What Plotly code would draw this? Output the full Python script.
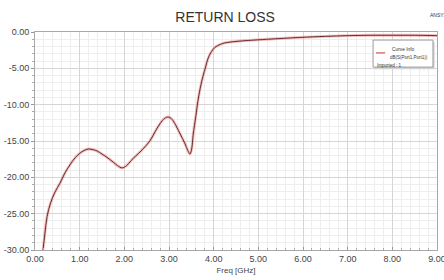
import plotly.graph_objects as go

# ---- data ----
freq_ghz = [0.18, 0.22, 0.27, 0.35, 0.45, 0.56, 0.67, 0.78, 0.9, 1.0, 1.1, 1.2, 1.3, 1.4,
            1.5, 1.6, 1.75, 1.85, 1.95, 2.05, 2.15, 2.25, 2.4, 2.57, 2.7, 2.8, 2.9, 2.98,
            3.05, 3.13, 3.24, 3.36, 3.42, 3.47, 3.51, 3.54, 3.6, 3.65, 3.7, 3.76, 3.82,
            3.87, 3.95, 4.03, 4.15, 4.25, 4.5, 4.81, 5.2, 5.93, 6.5, 7.0, 7.5, 8.0, 8.5, 9.0]
s11_db = [-30.0, -27.8, -25.4, -23.5, -22.0, -20.8, -19.4, -18.3, -17.3, -16.7, -16.3,
          -16.1, -16.2, -16.4, -16.8, -17.2, -17.9, -18.4, -18.7, -18.4, -17.7, -17.1,
          -16.2, -15.0, -13.6, -12.6, -11.9, -11.7, -11.9, -12.6, -13.9, -15.4, -16.3,
          -16.8, -16.0, -14.2, -11.6, -9.4, -7.7, -6.1, -4.8, -3.7, -2.7, -2.1, -1.7,
          -1.5, -1.3, -1.15, -1.0, -0.75, -0.6, -0.5, -0.45, -0.45, -0.45, -0.5]

x_tickvals = [0, 1, 2, 3, 4, 5, 6, 7, 8, 9]
x_ticktext = ["0.00", "1.00", "2.00", "3.00", "4.00", "5.00", "6.00", "7.00", "8.00", "9.00"]
y_tickvals = [0, -5, -10, -15, -20, -25, -30]
y_ticktext = ["0.00", "-5.00", "-10.00", "-15.00", "-20.00", "-25.00", "-30.00"]

title_text = "RETURN LOSS"
x_title = "Freq [GHz]"
legend_title = "Curve Info"
legend_entry = "dB(S(Port1,Port1))"
legend_note = "Imported : 1"
brand = "ANSYS"

FONT = "Liberation Sans, Arial, sans-serif"

fig = go.Figure()
fig.add_trace(go.Scatter(x=freq_ghz, y=s11_db, mode="lines", line_shape="spline",
                         line=dict(color="rgba(225,110,110,0.45)", width=2.8),
                         hoverinfo="skip", showlegend=False))
fig.add_trace(go.Scatter(x=freq_ghz, y=s11_db, mode="lines", line_shape="spline",
                         line=dict(color="#6a2e2e", width=1.0),
                         name=legend_entry, showlegend=False))

axis_common = dict(
    showline=True, linecolor="#a8a8a8", linewidth=1, mirror=True,
    gridcolor="#d6d6d6", gridwidth=1, zeroline=False, automargin=False,
    tickcolor="#999", ticklabeloverflow="allow",
    tickfont=dict(family=FONT, size=9, color="#444"),
)

fig.update_xaxes(range=[0, 9], tickvals=x_tickvals, ticktext=x_ticktext,
                 ticks="inside", ticklen=3,
                 minor=dict(dtick=0.2, showgrid=True, gridcolor="#eeeeee",
                            ticks="inside", ticklen=2, tickcolor="#aaa"),
                 title=dict(text=x_title, font=dict(family=FONT, size=8, color="#444"),
                            standoff=4),
                 **axis_common)
fig.update_yaxes(range=[-30, 0], tickvals=y_tickvals, ticktext=y_ticktext,
                 ticks="outside", ticklen=3,
                 minor=dict(dtick=1, showgrid=True, gridcolor="#eeeeee",
                            ticks="outside", ticklen=2, tickcolor="#aaa"),
                 **axis_common)

# legend box (Curve Info)
x0, x1 = 0.841, 0.990
y0, y1 = 0.839, 0.963
fig.add_shape(type="rect", xref="paper", yref="paper", x0=x0 + 0.004, x1=x1 + 0.004,
              y0=y0 - 0.01, y1=y1 - 0.01, fillcolor="#d4d4d4", line=dict(width=0))
fig.add_shape(type="rect", xref="paper", yref="paper", x0=x0, x1=x1, y0=y0, y1=y1,
              fillcolor="white", line=dict(color="#9a9a9a", width=1))
fig.add_shape(type="line", xref="paper", yref="paper", x0=0.848, x1=0.871, y0=0.904, y1=0.904,
              line=dict(color="#d05050", width=1.2))
fig.add_annotation(xref="paper", yref="paper", x=(x0 + x1) / 2, y=0.940, xanchor="center",
                   text=legend_title, showarrow=False,
                   font=dict(family=FONT, size=4.8, color="#333"))
fig.add_annotation(xref="paper", yref="paper", x=0.879, y=0.904, xanchor="left",
                   text=legend_entry, showarrow=False,
                   font=dict(family=FONT, size=4.5, color="#333"))
fig.add_annotation(xref="paper", yref="paper", x=0.846, y=0.867, xanchor="left",
                   text=legend_note, showarrow=False,
                   font=dict(family=FONT, size=4.5, color="#333"))

fig.add_annotation(xref="paper", yref="paper", x=0.978, y=1.10, xanchor="left",
                   text=brand, showarrow=False,
                   font=dict(family=FONT, size=5, color="#333"))

fig.update_layout(
    width=444, height=280,
    margin=dict(l=35, r=7, t=32, b=30),
    paper_bgcolor="white", plot_bgcolor="white",
    title=dict(text=title_text, x=0.507, xanchor="center", y=0.939, yanchor="middle",
               font=dict(family=FONT, size=14, color="#333")),
    showlegend=False,
)

fig.write_html("out.html", config={"displayModeBar": False},
               post_script="document.body.style.margin='0px';document.body.style.overflow='hidden';")
